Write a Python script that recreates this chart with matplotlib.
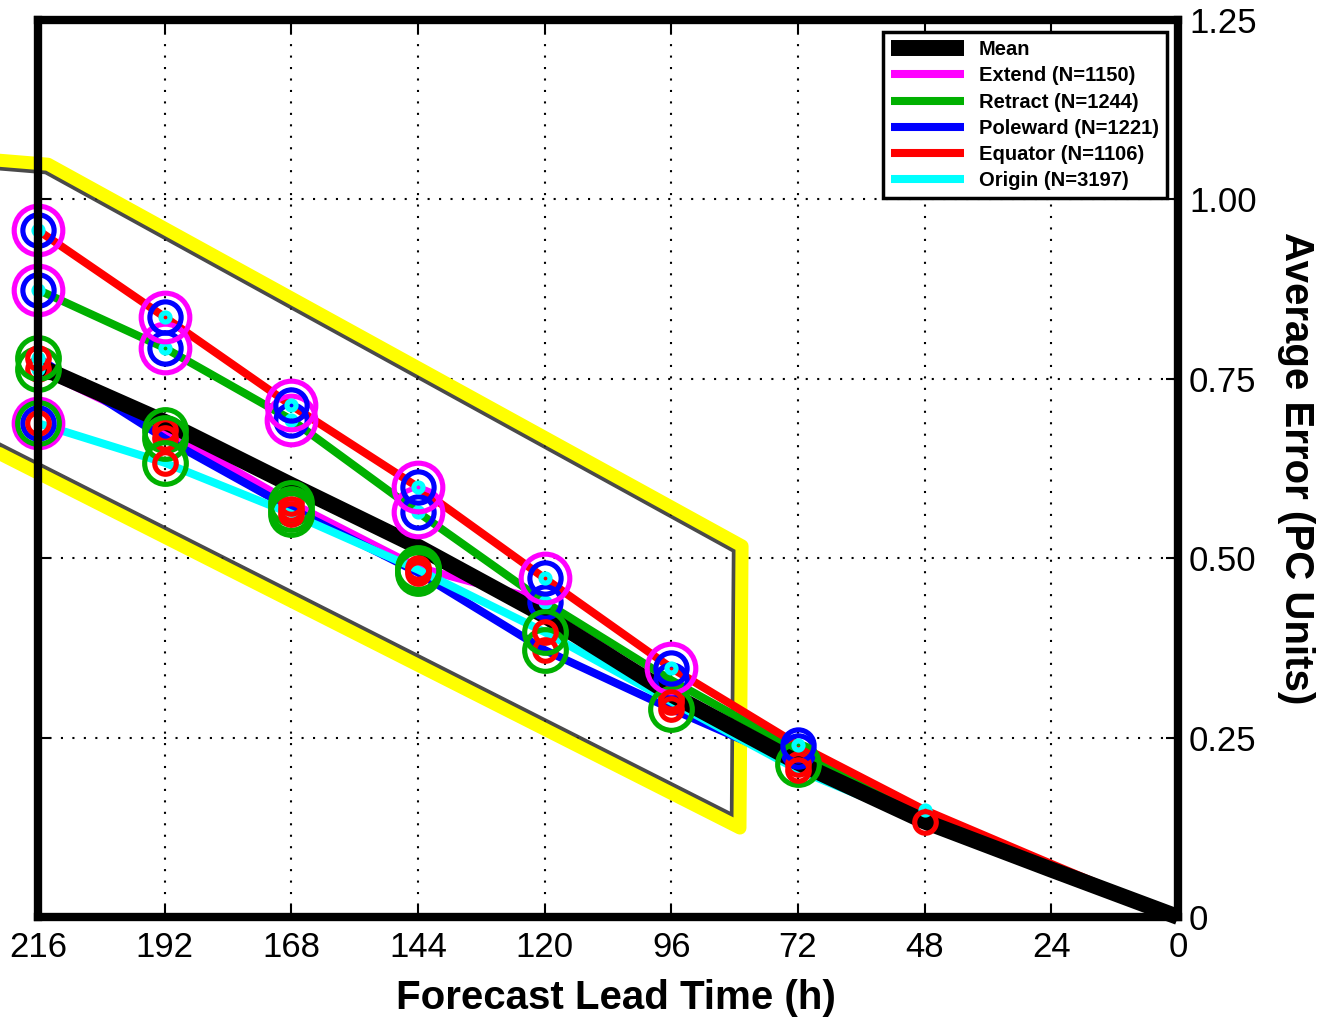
import numpy as np
import matplotlib
matplotlib.use("Agg")
import matplotlib.pyplot as plt

plt.rcParams['font.family'] = ['Liberation Sans', 'DejaVu Sans']

# lead times (h) and average errors (PC units)
lead = [216, 192, 168, 144, 120, 96, 72, 48, 24, 0]
mean_err = [0.768, 0.690, 0.602, 0.516, 0.420, 0.310, 0.215, 0.133, 0.066, 0.0]
extend_err = [0.764, 0.679, 0.577, 0.487, 0.440, 0.305, 0.220, 0.135, 0.067, 0.0]
retract_err = [0.874, 0.793, 0.693, 0.564, 0.439, 0.330, 0.232, 0.140, 0.068, 0.0]
poleward_err = [0.779, 0.667, 0.569, 0.480, 0.372, 0.290, 0.213, 0.133, 0.065, 0.0]
equator_err = [0.957, 0.836, 0.713, 0.599, 0.472, 0.347, 0.240, 0.149, 0.074, 0.0]
origin_err = [0.688, 0.633, 0.562, 0.484, 0.397, 0.300, 0.205, 0.132, 0.065, 0.0]

# significant differences at each lead time (X=Extend R=Retract P=Poleward E=Equator O=Origin)
extend_sig = ['REO', 'RE', 'RE', 'RE', '', 'E', '', '', '', '']
retract_sig = ['XPO', 'XPO', 'XPO', 'XPO', 'PO', 'P', 'P', '', '', '']
poleward_sig = ['REO', 'RE', 'RE', 'RE', 'RE', 'ER', 'ER', '', '', '']
equator_sig = ['XPO', 'XPO', 'XPO', 'XPO', 'XPO', 'XPO', 'PO', 'O', '', '']
origin_sig = ['XRPE', 'RE', 'RE', 'RE', 'RE', 'E', 'E', 'E', '', '']

labels = ['Extend (N=1150)', 'Retract (N=1244)', 'Poleward (N=1221)',
          'Equator (N=1106)', 'Origin (N=3197)']
codes = ['X', 'R', 'P', 'E', 'O']
colors = {'X': '#ff00ff', 'R': '#00b000', 'P': '#0000ff', 'E': '#ff0000', 'O': '#00ffff'}
ring_size = {'X': 35, 'R': 30, 'P': 22.5, 'E': 15.5, 'O': 6.5}

series = [extend_err, retract_err, poleward_err, equator_err, origin_err]
sigs = [extend_sig, retract_sig, poleward_sig, equator_sig, origin_sig]

fig = plt.figure(figsize=(13.23, 10.17), dpi=100)
ax = fig.add_axes([38/1323, 1-917/1017, 1140/1323, 897/1017])
ax.set_xlim(216, 0)
ax.set_ylim(0, 1.25)

handles = []
for c, lab, vals in zip(codes, labels, series):
    h, = ax.plot(lead, vals, color=colors[c], lw=5.8, zorder=3, clip_on=False,
                 solid_capstyle='butt', label=lab)
    handles.append(h)
hm, = ax.plot(lead, mean_err, color='k', lw=11.5, zorder=4, clip_on=False,
              solid_capstyle='butt', label='Mean')

# rings marking significant differences
for vals, sg in zip(series, sigs):
    for t, v, s in zip(lead, vals, sg):
        for c in codes:
            if c in s:
                ax.plot(t, v, 'o', ms=ring_size[c], mfc='none', mec=colors[c],
                        mew=3.7, zorder=5, clip_on=False)

# yellow highlight outline (annotation)
box_x = [229.0, 214.1, 82.6, 83.0, 229.0]
box_y = [1.058, 1.049, 0.517, 0.124, 0.667]
px_h = 1140 / 216.0      # pixels per hour (x axis reversed)
px_v = 897 / 1.25        # pixels per error unit
pts = np.column_stack([-np.array(box_x) * px_h, np.array(box_y) * px_v])


def inner_offset(p, d):
    segs = []
    for a, b in zip(p[:-1], p[1:]):
        dx, dy = b - a
        n = np.array([dy, -dx]) / np.hypot(dx, dy)
        segs.append((a + d*n, b + d*n))
    out = [segs[0][0]]
    for (a1, b1), (a2, b2) in zip(segs[:-1], segs[1:]):
        r = b1 - a1
        s = b2 - a2
        den = r[0]*s[1] - r[1]*s[0]
        tt = ((a2 - a1)[0]*s[1] - (a2 - a1)[1]*s[0]) / den
        out.append(a1 + tt*r)
    out.append(segs[-1][1])
    return np.array(out)


sh = inner_offset(pts, 5)
ax.plot(-sh[:, 0] / px_h, sh[:, 1] / px_v, color='#2a2a2a', lw=7.5, alpha=0.85,
        zorder=2, clip_on=False, solid_joinstyle='round')
ax.plot(box_x, box_y, color='#ffff00', lw=9.4, zorder=2.2, clip_on=False,
        solid_joinstyle='round', solid_capstyle='round')

ax.set_xticks(lead)
ax.set_xticklabels([str(t) for t in lead])
ax.set_yticks([0, 0.25, 0.5, 0.75, 1.0, 1.25])
ax.set_yticklabels(['0', '0.25', '0.50', '0.75', '1.00', '1.25'])
ax.tick_params(axis='both', direction='in', length=9, width=1.5, labelsize=25,
               top=True, bottom=True, left=True, right=True,
               labelleft=False, labelright=True)
ax.tick_params(axis='x', pad=10)
ax.tick_params(axis='y', pad=8)
ax.grid(True, color='k', ls=(0, (1, 4.5)), lw=1.5)
ax.set_axisbelow(True)

for sp in ax.spines.values():
    sp.set_linewidth(6)
    sp.set_zorder(10)

ax.set_xlabel('Forecast Lead Time (h)', fontsize=29, fontweight='bold')
ax.xaxis.set_label_coords(0.507, -0.069)
ax.yaxis.set_label_position('right')
ax.set_ylabel('Average Error (PC Units)', fontsize=29, fontweight='bold',
              rotation=270, labelpad=42)

leg = ax.legend([hm] + handles, ['Mean'] + labels, loc='upper right',
                bbox_to_anchor=(0.9904, 0.9866), borderaxespad=0,
                prop={'weight': 'bold', 'size': 14.5}, handlelength=3.6,
                handletextpad=0.75, labelspacing=0.36, borderpad=0.4,
                fancybox=False, framealpha=1, edgecolor='k')
leg.get_frame().set_linewidth(2.5)
leg.set_zorder(20)

fig.savefig('out.png', dpi=100)
